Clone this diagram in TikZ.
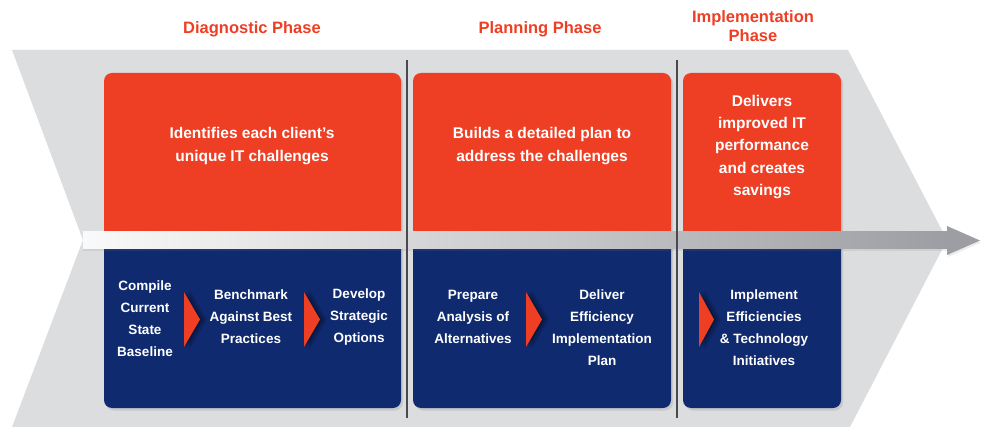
\documentclass[tikz,border=0pt]{standalone}
\usepackage{fontspec}
\setmainfont{Liberation Sans}
\usetikzlibrary{shadows}
\definecolor{pred}{HTML}{EE3E24}
\definecolor{pblue}{HTML}{0F2A6F}
\definecolor{pgray}{HTML}{DCDDDF}
\definecolor{parrow}{HTML}{9D9EA3}
\definecolor{pline}{HTML}{4A4A4E}
\tikzset{
  hdr/.style={text=pred, font=\bfseries\fontsize{16.5}{19}\selectfont, align=center, inner sep=0pt},
  toptext/.style={text=white, font=\bfseries\fontsize{15.5}{22.3}\selectfont, align=center, inner sep=0pt},
  subtext/.style={text=white, font=\bfseries\fontsize{13.5}{22}\selectfont, align=center, inner sep=0pt},
  boxshadow/.style={drop shadow={opacity=0.22, shadow xshift=2pt, shadow yshift=-2.5pt}},
  redpart/.style={fill=pred, rounded corners=8pt, boxshadow},
  bluepart/.style={fill=pblue, rounded corners=8pt, boxshadow},
  steparrow/.style={fill=pred,
    general shadow={fill=black, opacity=0.12, shadow xshift=6pt, shadow scale=1.08},
    general shadow={fill=black, opacity=0.15, shadow xshift=4pt, shadow scale=1.04},
    general shadow={fill=black, opacity=0.2, shadow xshift=2pt}},
  divider/.style={draw=pline, line width=1.2pt}
}
\begin{document}
\begin{tikzpicture}[x=1pt,y=-1pt]
\useasboundingbox (0,0) rectangle (981,427);
\fill[white] (0,0) rectangle (981,427);
% chevron background
\fill[pgray] (12,50) -- (848,50) -- (947,240) -- (850,427) -- (12,427) -- (83,240) -- cycle;
% boxes
\path[bluepart] (104,236) rectangle (401,408);
\path[redpart] (104,73) rectangle (401,244);
\path[bluepart] (413,236) rectangle (671,408);
\path[redpart] (413,73) rectangle (671,244);
\path[bluepart] (683,236) rectangle (841,408);
\path[redpart] (683,73) rectangle (841,244);
% central arrow
\shade[left color=white!96!gray, right color=parrow, drop shadow={opacity=0.15, shadow xshift=0pt, shadow yshift=-2pt}] (83,232) rectangle (947,249);
\fill[parrow, drop shadow={opacity=0.15, shadow xshift=1pt, shadow yshift=-2pt}] (947,226) -- (980,240.5) -- (947,255) -- cycle;
% dividers
\draw[divider] (407,60) -- (407,418);
\draw[divider] (677,60) -- (677,418);
% headers
\node[hdr] (h1) at (252,29) {Diagnostic Phase};
\node[hdr] (h2) at (540,29) {Planning Phase};
\node[hdr] (h3) at (753,26.5) {Implementation\\Phase};
% top texts
\node[toptext] (t1) at (252,146) {Identifies each client's\\unique IT challenges};
\node[toptext] (t2) at (542,146) {Builds a detailed plan to\\address the challenges};
\node[toptext] (t3) at (762,147) {Delivers\\improved IT\\performance\\and creates\\savings};
% step arrows
\path[steparrow] (184,292) -- (200,319.5) -- (184,347) -- cycle;
\path[steparrow] (304,292) -- (320,319.5) -- (304,347) -- cycle;
\path[steparrow] (526,292) -- (542,319.5) -- (526,347) -- cycle;
\path[steparrow] (699,292) -- (714,319.5) -- (699,347) -- cycle;
% sub texts
\node[subtext] (s1) at (145,319) {Compile\\Current\\State\\Baseline};
\node[subtext] (s2) at (251,317) {Benchmark\\Against Best\\Practices};
\node[subtext] (s3) at (359,317) {Develop\\Strategic\\Options};
\node[subtext] (s4) at (473,317) {Prepare\\Analysis of\\Alternatives};
\node[subtext] (s5) at (602,328) {Deliver\\Efficiency\\Implementation\\Plan};
\node[subtext] (s6) at (764,328) {Implement\\Efficiencies\\\& Technology\\Initiatives};
\end{tikzpicture}
\end{document}
